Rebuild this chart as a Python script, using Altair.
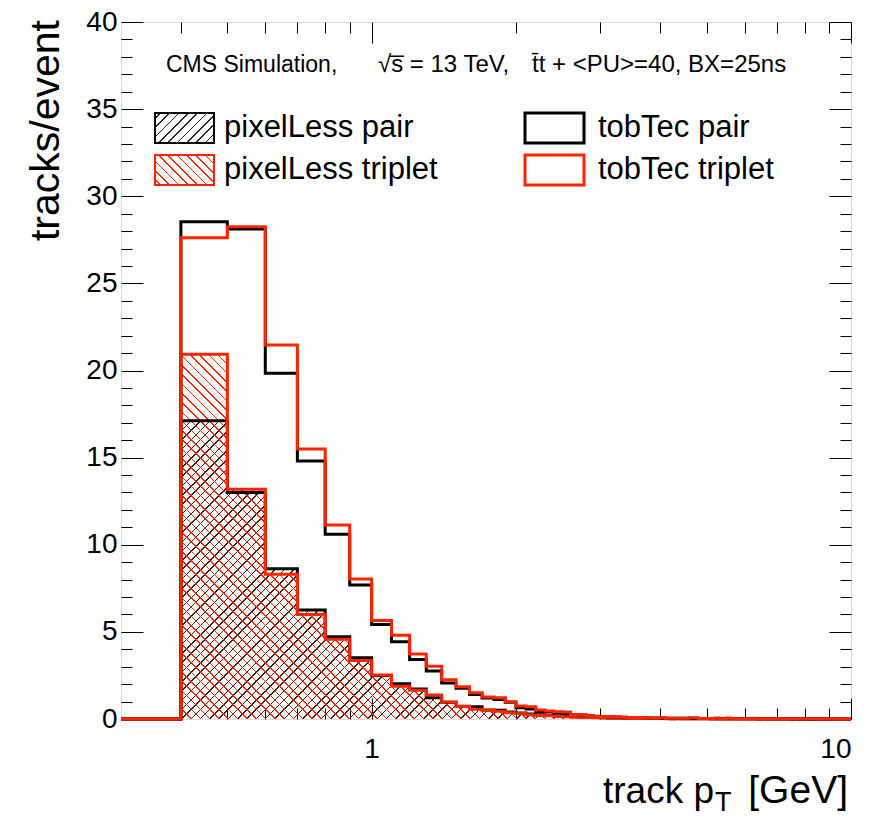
import altair as alt
import pandas as pd

# ---------------- data ----------------
# bin edges of 0.1 GeV from 0.3 to 10 GeV
edges = [round(0.3 + 0.1 * i, 1) for i in range(98)]
bin_lo = edges[:-1]

pixelless_pair = [
    0.00, 17.12, 13.00, 8.62, 6.26, 4.72, 3.52, 2.50, 2.03, 1.72,
    1.22, 0.96, 0.73, 0.70, 0.52, 0.50, 0.40, 0.34, 0.28, 0.23,
    0.20, 0.17, 0.15, 0.13, 0.11, 0.10, 0.08,
    0.07, 0.06, 0.06, 0.05, 0.05, 0.04, 0.04, 0.04, 0.03, 0.03,
    0.03, 0.03, 0.02, 0.03, 0.02, 0.02, 0.02, 0.02, 0.02, 0.01,
    0.02, 0.01, 0.02, 0.01, 0.01, 0.01, 0.01, 0.01, 0.01, 0.01,
    0.01, 0.01, 0.01, 0.01, 0.00, 0.01, 0.01, 0.00, 0.01, 0.00,
    0.01, 0.00, 0.01, 0.00, 0.00, 0.01, 0.00, 0.00, 0.00, 0.01,
    0.00, 0.00, 0.01, 0.00, 0.00, 0.00, 0.00, 0.01, 0.00, 0.00,
    0.00, 0.00, 0.00, 0.01, 0.00, 0.00, 0.00, 0.00, 0.00, 0.00,
]
pixelless_triplet = [
    0.00, 20.93, 13.18, 8.30, 5.99, 4.57, 3.36, 2.52, 1.88, 1.65,
    1.38, 0.97, 0.72, 0.56, 0.50, 0.44, 0.36, 0.31, 0.25, 0.21,
    0.18, 0.15, 0.13, 0.11, 0.10, 0.08, 0.07,
    0.07, 0.06, 0.05, 0.05, 0.04, 0.04, 0.03, 0.03, 0.03, 0.03,
    0.03, 0.02, 0.02, 0.02, 0.02, 0.02, 0.02, 0.01, 0.02, 0.01,
    0.01, 0.01, 0.01, 0.02, 0.01, 0.01, 0.01, 0.01, 0.00, 0.01,
    0.01, 0.00, 0.01, 0.01, 0.00, 0.00, 0.01, 0.00, 0.00, 0.01,
    0.00, 0.00, 0.01, 0.00, 0.00, 0.00, 0.01, 0.00, 0.00, 0.00,
    0.00, 0.01, 0.00, 0.00, 0.00, 0.00, 0.00, 0.00, 0.01, 0.00,
    0.00, 0.00, 0.00, 0.00, 0.00, 0.01, 0.00, 0.00, 0.00, 0.00,
]
tobtec_pair = [
    0.00, 28.54, 28.12, 19.84, 14.81, 10.60, 7.69, 5.42, 4.44, 3.41,
    2.76, 2.07, 1.76, 1.40, 1.20, 1.12, 0.96, 0.64, 0.58, 0.40,
    0.40, 0.35, 0.32, 0.26, 0.23, 0.19, 0.16,
    0.14, 0.13, 0.11, 0.10, 0.09, 0.08, 0.08, 0.07, 0.06, 0.06,
    0.05, 0.05, 0.05, 0.04, 0.04, 0.04, 0.03, 0.03, 0.03, 0.03,
    0.03, 0.02, 0.02, 0.02, 0.02, 0.02, 0.02, 0.02, 0.01, 0.02,
    0.01, 0.01, 0.02, 0.01, 0.01, 0.01, 0.01, 0.01, 0.01, 0.01,
    0.01, 0.01, 0.01, 0.01, 0.01, 0.00, 0.01, 0.01, 0.00, 0.01,
    0.01, 0.00, 0.01, 0.00, 0.01, 0.00, 0.00, 0.01, 0.00, 0.00,
    0.01, 0.00, 0.00, 0.00, 0.01, 0.00, 0.00, 0.00, 0.00, 0.00,
]
tobtec_triplet = [
    0.00, 27.62, 28.25, 21.46, 15.49, 11.13, 8.03, 5.66, 4.80, 3.73,
    3.03, 2.25, 1.85, 1.50, 1.26, 1.22, 0.99, 0.74, 0.70, 0.52,
    0.46, 0.42, 0.40, 0.26, 0.24, 0.17, 0.15,
    0.13, 0.14, 0.11, 0.10, 0.09, 0.08, 0.08, 0.07, 0.06, 0.06,
    0.09, 0.05, 0.05, 0.04, 0.04, 0.04, 0.07, 0.07, 0.03, 0.03,
    0.03, 0.03, 0.06, 0.02, 0.02, 0.06, 0.02, 0.02, 0.02, 0.02,
    0.02, 0.02, 0.05, 0.02, 0.01, 0.01, 0.01, 0.01, 0.01, 0.01,
    0.01, 0.01, 0.01, 0.01, 0.01, 0.01, 0.01, 0.01, 0.01, 0.01,
    0.01, 0.01, 0.01, 0.01, 0.01, 0.00, 0.01, 0.01, 0.01, 0.00,
    0.01, 0.01, 0.00, 0.01, 0.00, 0.01, 0.00, 0.01, 0.00, 0.01,
]

series_names = ["pixelLess pair", "pixelLess triplet", "tobTec pair", "tobTec triplet"]
series_vals = [pixelless_pair, pixelless_triplet, tobtec_pair, tobtec_triplet]

x_tick_values = [0.4, 0.5, 0.6, 0.7, 0.8, 0.9, 1, 2, 3, 4, 5, 6, 7, 8, 9, 10]
x_label_values = [1, 10]
y_tick_values = list(range(0, 41))
y_label_values = list(range(0, 41, 5))

header_parts = ["CMS Simulation,", "\u221as\u0305 = 13 TeV,", "t\u0304t + <PU>=40, BX=25ns"]

# ---------------- layout / style ----------------
W, H = 730, 697
FONT = "Liberation Sans"
RED = "#ff2400"
YMAX = 40.0

rows = []
for name, vals in zip(series_names, series_vals):
    for e, v in zip(bin_lo, vals):
        rows.append({"series": name, "x": e, "y": v})
    rows.append({"series": name, "x": edges[-1], "y": vals[-1]})
df = pd.DataFrame(rows)

xs = alt.Scale(type="log", domain=[0.3, 10], nice=False)
ys = alt.Scale(domain=[0, 40], nice=False, zero=True)


def hatch(w, h, color, direction, period=9.3, lw=1.1):
    """Linear gradient (bbox units) that draws 45-degree hatch lines."""
    tot = w + h
    k = tot / (w * w + h * h)
    a, b = w * k, h * k
    if direction == "/":
        x1, y1, x2, y2 = 0, 0, a, b
    else:
        x1, y1, x2, y2 = 0, 1, a, 1 - b
    clear = "rgba(255,255,255,0)"
    p = period / tot
    l = lw * 1.4142 / tot
    stops = [alt.GradientStop(color=clear, offset=0)]
    t = p / 2
    while t + l < 1:
        stops += [
            alt.GradientStop(color=clear, offset=round(t, 6)),
            alt.GradientStop(color=color, offset=round(t, 6)),
            alt.GradientStop(color=color, offset=round(t + l, 6)),
            alt.GradientStop(color=clear, offset=round(t + l, 6)),
        ]
        t += p
    stops.append(alt.GradientStop(color=clear, offset=1))
    return alt.LinearGradient(gradient="linear", stops=stops,
                              x1=x1, y1=y1, x2=round(x2, 6), y2=round(y2, 6))


def px_height(vals):
    return max(vals) / YMAX * H


no_axis = None
common = dict(domain=False, grid=False, title=None, tickColor="black")
ax_x_labels = alt.Axis(orient="bottom", values=x_label_values, format="d", tickSize=0,
                       labelFontSize=28, labelPadding=16, labelFont=FONT, labelColor="black",
                       labelFlush=True, **common)
ax_y_labels = alt.Axis(orient="left", values=y_label_values, tickSize=0,
                       labelFontSize=28, labelPadding=4, labelFont=FONT, labelColor="black",
                       labelFlush=False, **common)
x_size = {"condition": {"test": "datum.value == 1 || datum.value == 10", "value": 21}, "value": 11}
y_size = {"condition": {"test": "datum.value % 5 == 0", "value": 22}, "value": 11}
ax_x_bottom_ticks = alt.Axis(orient="top", offset=-H, values=x_tick_values, tickSize=x_size,
                             labels=False, **common)
ax_x_top_ticks = alt.Axis(orient="bottom", offset=-H, values=x_tick_values, tickSize=x_size,
                          labels=False, **common)
ax_y_left_ticks = alt.Axis(orient="right", offset=-W, values=y_tick_values, tickSize=y_size,
                           labels=False, **common)
ax_y_right_ticks = alt.Axis(orient="left", offset=-W, values=y_tick_values, tickSize=y_size,
                            labels=False, **common)

base = alt.Chart(df)


def enc(chart, xa, ya):
    return chart.encode(
        x=alt.X("x:Q", scale=xs, axis=xa),
        y=alt.Y("y:Q", scale=ys, axis=ya, stack=None),
    )


area_pp = enc(
    base.transform_filter(alt.datum.series == "pixelLess pair").mark_area(
        interpolate="step-after", fill=hatch(W, px_height(pixelless_pair), "#222222", "/")),
    ax_x_labels, ax_y_labels)
area_pt = enc(
    base.transform_filter(alt.datum.series == "pixelLess triplet").mark_area(
        interpolate="step-after", fill=hatch(W, px_height(pixelless_triplet), RED, "\\")),
    ax_x_bottom_ticks, ax_y_left_ticks)
line_pp = enc(
    base.transform_filter(alt.datum.series == "pixelLess pair").mark_line(
        interpolate="step-after", color="black", strokeWidth=3),
    ax_x_top_ticks, ax_y_right_ticks)
line_pt = enc(
    base.transform_filter(alt.datum.series == "pixelLess triplet").mark_line(
        interpolate="step-after", color=RED, strokeWidth=3),
    no_axis, no_axis)
line_tp = enc(
    base.transform_filter(alt.datum.series == "tobTec pair").mark_line(
        interpolate="step-after", color="black", strokeWidth=3),
    no_axis, no_axis)
line_tt = enc(
    base.transform_filter(alt.datum.series == "tobTec triplet").mark_line(
        interpolate="step-after", color=RED, strokeWidth=3),
    no_axis, no_axis)

one = alt.Chart(pd.DataFrame({"d": [0]}))


def box(x0, x1, y0, y1, fill, stroke, sw):
    return one.mark_rect(fill=fill, stroke=stroke, strokeWidth=sw).encode(
        x=alt.value(x0), x2=alt.value(x1), y=alt.value(y0), y2=alt.value(y1))


def label(txt, x, y, size, align="left", baseline="middle", angle=0):
    kw = dict(align=align, baseline=baseline, fontSize=size, font=FONT, color="black")
    if angle:
        kw["angle"] = angle
    return one.mark_text(**kw).encode(x=alt.value(x), y=alt.value(y), text=alt.value(txt))


legend = [
    box(34, 93, 91, 121, hatch(59, 30, "#222222", "/"), "black", 2),
    box(34, 93, 133, 163, hatch(59, 30, RED, "\\"), RED, 2),
    box(404, 463, 91, 121, "white", "black", 3),
    box(404, 463, 133, 163, "white", RED, 3),
    label("pixelLess pair", 103, 106, 31),
    label("pixelLess triplet", 103, 148, 31),
    label("tobTec pair", 477, 106, 31),
    label("tobTec triplet", 477, 148, 31),
    label(header_parts[0], 45, 43, 23),
    label(header_parts[1], 257, 43, 24),
    label(header_parts[2], 411, 43, 24),
]

titles = [
    label("tracks/event", -62, -2, 41, align="right", baseline="alphabetic", angle=270),
    label("track p", 593, 781, 37, align="right", baseline="alphabetic"),
    label("T", 594, 789, 27, align="left", baseline="alphabetic"),
    label("[GeV]", 727, 781, 39, align="right", baseline="alphabetic"),
]

chart = alt.layer(
    area_pp, area_pt, line_pp, line_pt, line_tp, line_tt, *legend, *titles
).resolve_axis(
    x="independent", y="independent"
).properties(
    width=W, height=H, autosize="none",
    padding={"left": 121, "top": 22, "right": 19, "bottom": 98},
    background="white",
).configure_view(
    stroke="black", strokeWidth=1.5
).configure(font=FONT)

chart.save("out.html", embed_options={"renderer": "svg", "actions": False})
